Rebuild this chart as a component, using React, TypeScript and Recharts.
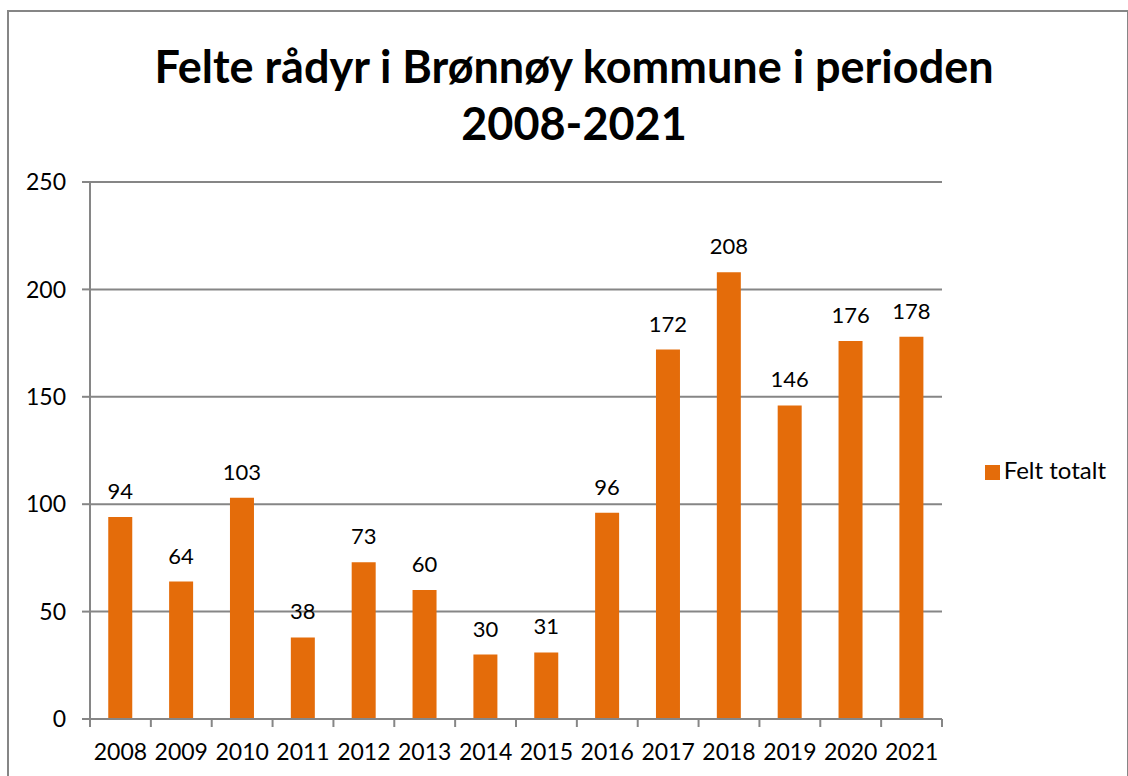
import React from 'react';
import { BarChart, Bar, XAxis, YAxis, CartesianGrid, Legend, LabelList } from 'recharts';

const years = ['2008', '2009', '2010', '2011', '2012', '2013', '2014', '2015', '2016', '2017', '2018', '2019', '2020', '2021'];
const feltTotalt = [94, 64, 103, 38, 73, 60, 30, 31, 96, 172, 208, 146, 176, 178];
const yTicks = [0, 50, 100, 150, 200, 250];

const data = years.map((year, i) => ({ year, felt: feltTotalt[i] }));

const FONT = 'Lato, "Open Sans", sans-serif';
const GREY = '#868686';
const ORANGE = '#E46C0A';

const PLOT_LEFT = 90;
const PLOT_RIGHT = 942;
const LEGEND_W = 148;
const STEP = (PLOT_RIGHT - PLOT_LEFT) / years.length;

const YearTick = (props: any) => {
  const { x, y, payload, index } = props;
  const left = x - STEP / 2;
  return (
    <g>
      <line x1={left} y1={y - 8} x2={left} y2={y} stroke={GREY} strokeWidth={2} />
      {index === years.length - 1 && (
        <line x1={left + STEP} y1={y - 8} x2={left + STEP} y2={y} stroke={GREY} strokeWidth={2} />
      )}
      <text x={x} y={y + 33} textAnchor="middle" fill="#000" fontSize={23} fontFamily={FONT}>
        {payload.value}
      </text>
    </g>
  );
};

export default function App() {
  return (
    <div style={{ position: 'absolute', left: 0, top: 0, width: 1128, height: 776, background: '#fff', overflow: 'hidden' }}>
      <div style={{ position: 'absolute', left: 7, top: 10, width: 1118, height: 800, border: `2px solid ${GREY}` }} />
      <div
        style={{
          position: 'absolute',
          left: 0,
          top: 38,
          width: 1148,
          textAlign: 'center',
          fontFamily: FONT,
          fontWeight: 'bold',
          fontSize: 45,
          lineHeight: '57px',
          color: '#000',
        }}
      >
        Felte rådyr i Brønnøy kommune i perioden
        <br />
        2008-2021
      </div>
      <div style={{ position: 'absolute', left: 0, top: 0 }}>
        <BarChart
          width={1128}
          height={776}
          data={data}
          margin={{ top: 182, right: 1128 - PLOT_RIGHT - LEGEND_W, bottom: 7, left: 8 }}
          barCategoryGap="30%"
        >
          <CartesianGrid vertical={false} stroke={GREY} strokeWidth={2} />
          <XAxis
            dataKey="year"
            height={50}
            axisLine={{ stroke: GREY, strokeWidth: 2 }}
            tickLine={false}
            interval={0}
            tick={<YearTick />}
          />
          <YAxis
            width={82}
            domain={[0, 250]}
            ticks={yTicks}
            axisLine={{ stroke: GREY, strokeWidth: 2 }}
            tickLine={{ stroke: GREY, strokeWidth: 2 }}
            tickSize={8}
            tickMargin={16}
            tick={{ fill: '#000', fontSize: 23, fontFamily: FONT }}
          />
          <Legend
            layout="horizontal"
            align="right"
            verticalAlign="middle"
            iconType="square"
            iconSize={15}
            wrapperStyle={{ left: 968, top: 455, right: 'auto', width: LEGEND_W, fontFamily: FONT, fontSize: 24 }}
            formatter={(v: string) => <span style={{ color: '#000' }}>{v}</span>}
          />
          <Bar dataKey="felt" name="Felt totalt" fill={ORANGE} isAnimationActive={false}>
            <LabelList dataKey="felt" position="top" offset={18} fill="#000" fontSize={22} fontFamily={FONT} />
          </Bar>
        </BarChart>
      </div>
    </div>
  );
}
